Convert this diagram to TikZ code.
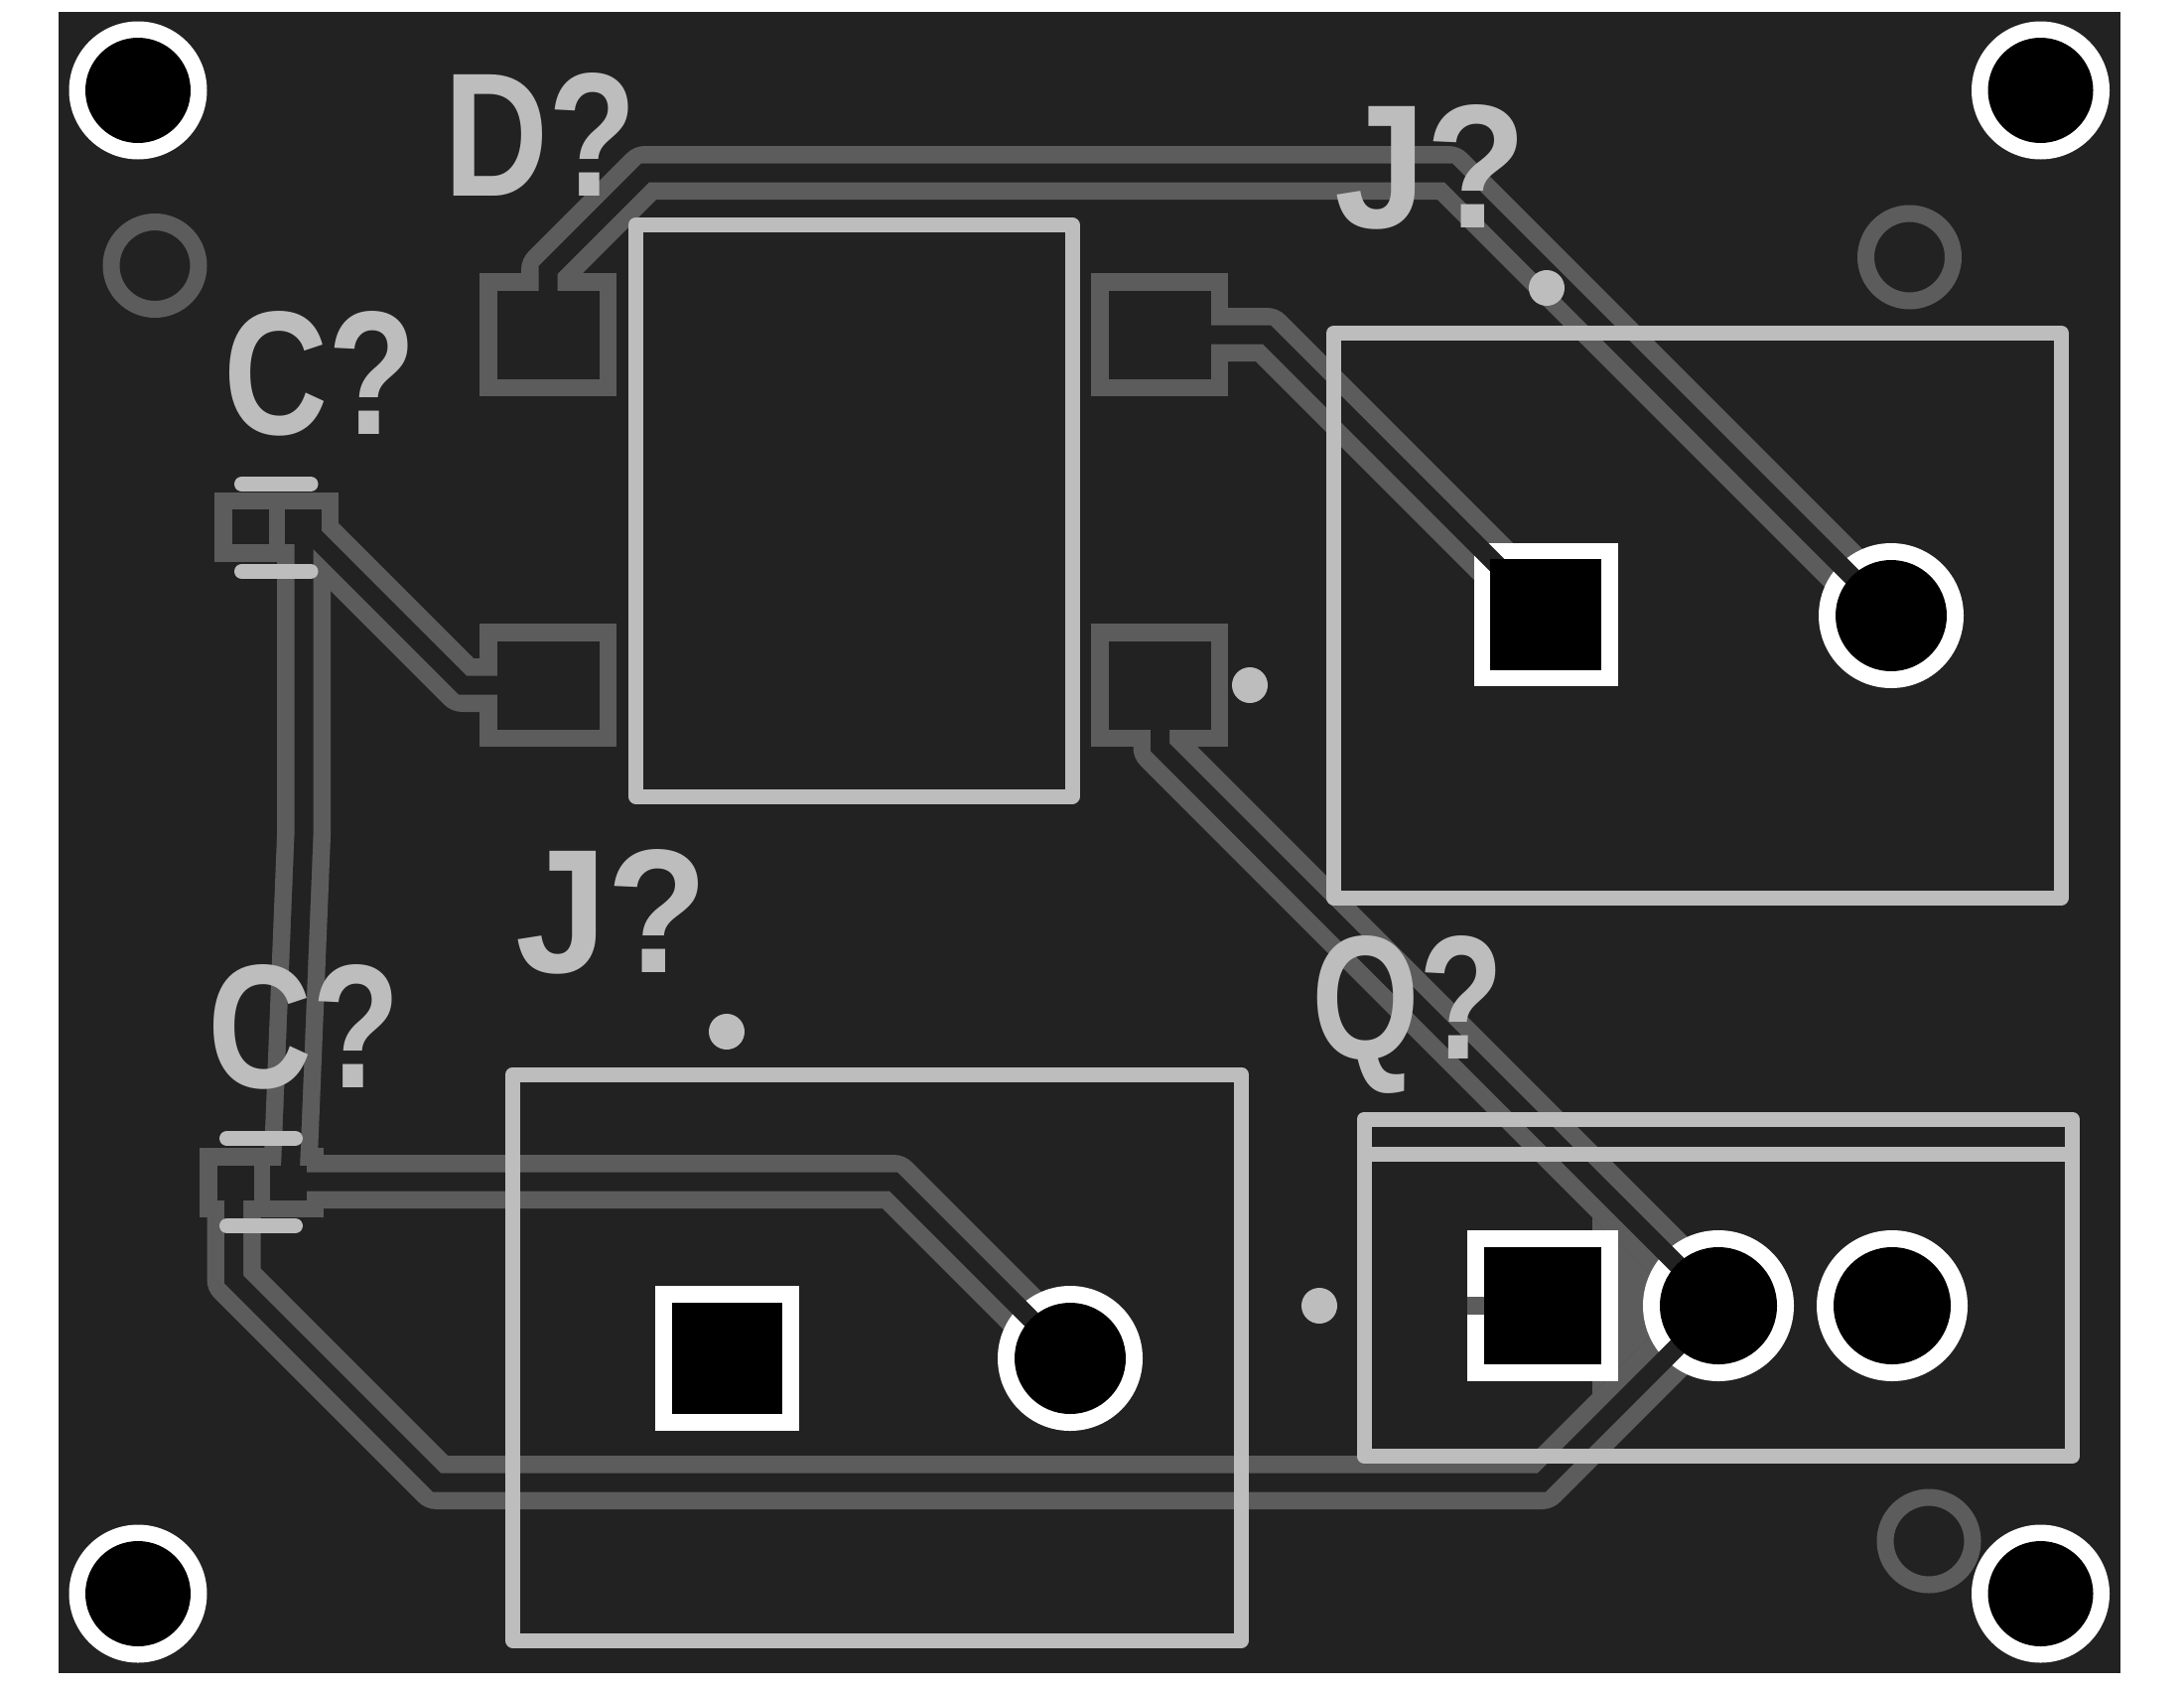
\documentclass[tikz,border=0pt]{standalone}
\usepackage{fontspec}
\usepackage{graphicx}
\newfontfamily\silkfont{Liberation Sans Bold}
\definecolor{boardbg}{HTML}{222222}
\definecolor{copper}{HTML}{5C5C5C}
\definecolor{silk}{HTML}{BDBDBD}
\tikzset{
  trc/.style={draw=copper,line width=54pt,line join=round,line cap=butt},
  trcin/.style={draw=boardbg,line width=19pt,line join=miter,line cap=butt},
  silkline/.style={draw=silk,line width=15pt,line cap=round,line join=round},
  silkrect/.style={draw=silk,line width=15pt,line join=round},
  silktxt/.style={text=silk,inner sep=0pt,anchor=base},
  ringv/.style={draw=copper,line width=17pt},
  dotm/.style={fill=silk,draw=none}
}
\newcommand{\pcbpadout}[4]{\fill[copper] (#1,#2) rectangle (#3,#4);}
\newcommand{\pcbpadin}[5]{\fill[boardbg] ({#1+#5},{#2+#5}) rectangle ({#3-#5},{#4-#5});}
\newcommand{\silklabel}[4]{\node[silktxt] (#4) at (#1,#2) {\resizebox{194pt}{124pt}{\fontsize{170pt}{170pt}\silkfont #3}};}
\begin{document}
\begin{tikzpicture}[x=1pt,y=-1pt]
\useasboundingbox (0,0) rectangle (2200,1700);
\fill[boardbg] (59,12) rectangle (2136,1685);
% plain copper rings
\draw[ringv] (156,267.5) circle (44pt);
\draw[ringv] (1923.5,259) circle (44pt);
\draw[ringv] (1943,1552) circle (44pt);
% copper traces, outer
\draw[trc] (552,300) -- (552,272) -- (650,174) -- (1459,174) -- (1905,620);
\draw[trc] (1200,337) -- (1276,337) -- (1557,618);
\draw[trc] (1168.5,720) -- (1168.5,752.5) -- (1731,1315);
\draw[trc] (292,1190) -- (306,842) -- (306,530);
\draw[trc] (306,530) -- (466,690) -- (550,690);
\draw[trc] (292,1190) -- (900,1190) -- (1078,1368);
\draw[trc] (235.5,1190) -- (235.5,1288.5) -- (440,1493) -- (1553,1493) -- (1731,1315);
\fill[copper] (1604,1226) -- (1693,1315) -- (1604,1404) -- cycle;
% copper pads, outer
\pcbpadout{483}{275}{621}{399}
\pcbpadout{1099}{275}{1237}{399}
\pcbpadout{1099}{628}{1237}{752}
\pcbpadout{483}{628}{621}{752}
\pcbpadout{216}{495.5}{288}{565.5}
\pcbpadout{269}{495.5}{341}{565.5}
\pcbpadout{201}{1156}{273}{1226}
\pcbpadout{254}{1156}{326}{1226}
% white annuli and square lands
\fill[white] (1484.5,547) rectangle (1629.5,691);
\fill[white] (1905,620) circle (73pt);
\fill[white] (660,1295) rectangle (805,1441);
\fill[white] (1078,1368) circle (73pt);
\fill[white] (1478,1239) rectangle (1630,1391);
\fill[white] (1731,1315) circle (76pt);
\fill[white] (1906,1315) circle (76pt);
\fill[copper] (1478,1306) rectangle (1495,1324);
% trace and pad interiors
\draw[trcin] (552,300) -- (552,272) -- (650,174) -- (1459,174) -- (1905,620);
\draw[trcin] (1200,337) -- (1276,337) -- (1557,618);
\draw[trcin] (1168.5,720) -- (1168.5,752.5) -- (1731,1315);
\draw[trcin] (292,1190) -- (306,842) -- (306,530);
\draw[trcin] (306,530) -- (466,690) -- (550,690);
\draw[trcin] (292,1190) -- (900,1190) -- (1078,1368);
\draw[trcin] (235.5,1190) -- (235.5,1288.5) -- (440,1493) -- (1553,1493) -- (1731,1315);
\pcbpadin{483}{275}{621}{399}{17.5}
\pcbpadin{1099}{275}{1237}{399}{17.5}
\pcbpadin{1099}{628}{1237}{752}{17.5}
\pcbpadin{483}{628}{621}{752}{17.5}
\pcbpadin{216}{495.5}{288}{565.5}{17.5}
\pcbpadin{269}{495.5}{341}{565.5}{17.5}
\pcbpadin{201}{1156}{273}{1226}{17.5}
\pcbpadin{254}{1156}{326}{1226}{17.5}
% drills
\fill[black] (1501,563) rectangle (1613,675);
\fill[black] (1905,620) circle (56pt);
\fill[black] (677,1312) rectangle (788,1424);
\fill[black] (1078,1368) circle (56pt);
\fill[black] (1495,1256) rectangle (1613,1374);
\fill[black] (1731,1315) circle (59pt);
\fill[black] (1906,1315) circle (59pt);
% mounting holes
\foreach \mx/\my in {139/91,2055.5/91,139/1605,2055.5/1605}{
  \fill[white] (\mx,\my) circle (69.5pt);
  \fill[black] (\mx,\my) circle (53pt);
}
% silkscreen outlines
\draw[silkrect] (640.5,226.5) rectangle (1080,802);
\draw[silkrect] (1343.5,335.5) rectangle (2076.5,904);
\draw[silkrect] (516.5,1082) rectangle (1250.5,1652);
\draw[silkrect] (1374,1127) rectangle (2087.5,1466.5);
\draw[silk,line width=15pt] (1374,1162) -- (2087.5,1162);
\draw[silkline] (243.5,487.5) -- (313,487.5);
\draw[silkline] (243.5,575.5) -- (313,575.5);
\draw[silkline] (228.5,1146.5) -- (297.5,1146.5);
\draw[silkline] (228.5,1234.5) -- (297.5,1234.5);
% silkscreen dots
\fill[dotm] (1558,290) circle (18pt);
\fill[dotm] (1259,690) circle (18pt);
\fill[dotm] (732,1039) circle (18pt);
\fill[dotm] (1329,1315) circle (18pt);
% labels
\silklabel{322}{437}{C?}{lblc1}
\silklabel{306}{1095.5}{C?}{lblc2}
\silklabel{544}{197}{D?}{lbld}
\silklabel{1441}{229}{J?}{lblj1}
\silklabel{616.5}{979}{J?}{lblj2}
\silklabel{1418}{1066}{Q?}{lblq}
\end{tikzpicture}
\end{document}
